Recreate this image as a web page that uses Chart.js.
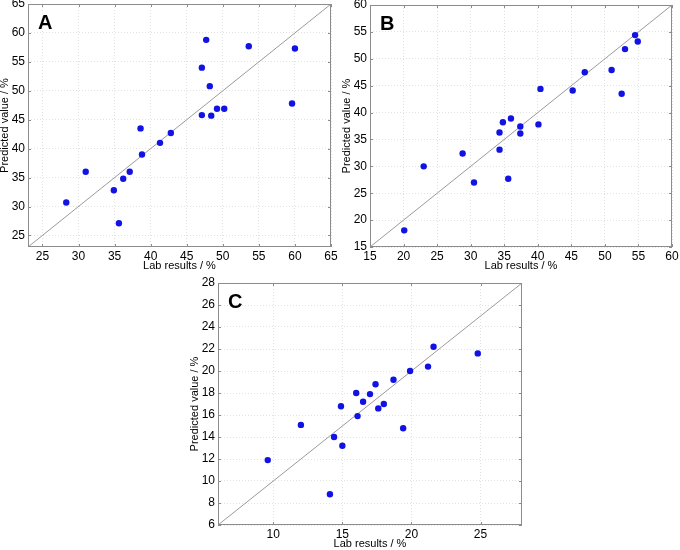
<!DOCTYPE html>
<html>
<head>
<meta charset="utf-8">
<script src="https://cdn.jsdelivr.net/npm/chart.js@4.4.1/dist/chart.umd.min.js"></script>
<style>
  html, body { margin: 0; padding: 0; background: #fff; }
  body { position: relative; width: 680px; height: 550px; overflow: hidden; }
  canvas { position: absolute; }
</style>
</head>
<body>
<canvas id="chartA"></canvas>
<canvas id="chartB"></canvas>
<canvas id="chartC"></canvas>
<script>
// Panel A
const aLab  = [28.3, 31.0, 34.9, 35.6, 36.2, 37.1, 38.6, 38.8, 41.3, 42.8, 47.1, 47.1, 47.7, 48.2, 48.4, 49.2, 50.2, 53.6, 59.6, 60.0];
const aPred = [30.7, 36.0, 32.8, 27.1, 34.8, 36.0, 43.5, 39.0, 41.0, 42.7, 45.8, 54.0, 58.8, 50.8, 45.7, 46.9, 46.9, 57.7, 47.8, 57.3];
const aRange = [23, 65];
const aTicks = [25, 30, 35, 40, 45, 50, 55, 60, 65];

// Panel B
const bLab  = [20.1, 23.0, 28.8, 30.5, 34.3, 34.3, 34.8, 35.6, 36.0, 37.4, 37.4, 40.1, 40.4, 45.2, 47.0, 51.0, 52.5, 53.0, 54.5, 54.9];
const bPred = [18.1, 30.0, 32.4, 27.0, 33.1, 36.3, 38.2, 27.7, 38.9, 37.4, 36.1, 37.8, 44.4, 44.1, 47.5, 47.9, 43.5, 51.8, 54.4, 53.2];
const bRange = [15, 60];
const bTicks = [15, 20, 25, 30, 35, 40, 45, 50, 55, 60];

// Panel C
const cLab  = [9.6, 12.0, 14.1, 14.4, 14.9, 15.0, 16.0, 16.1, 16.5, 17.0, 17.4, 17.6, 18.0, 18.7, 19.4, 19.9, 21.2, 21.6, 24.8];
const cPred = [11.9, 15.1, 8.8, 14.0, 16.8, 13.2, 18.0, 15.9, 17.2, 17.9, 18.8, 16.6, 17.0, 19.2, 14.8, 20.0, 20.4, 22.2, 21.6];
const cRange = [6, 28];
const cXTicks = [10, 15, 20, 25];
const cYTicks = [6, 8, 10, 12, 14, 16, 18, 20, 22, 24, 26, 28];

const xTitle = "Lab results / %";
const yTitle = "Predicted value / %";

const AXIS_W = 30, AXIS_H = 28, PAD = 20;
const DOT = "rgb(18, 18, 228)";

// box, inward tick marks and panel letter, MATLAB style
const framePlugin = {
  id: "frame",
  afterDraw(chart, args, opts) {
    const { ctx, chartArea: a, scales: { x, y } } = chart;
    ctx.save();
    ctx.strokeStyle = "#8c8c8c";
    ctx.lineWidth = 1;
    ctx.strokeRect(a.left + 0.5, a.top + 0.5, a.right - a.left - 1, a.bottom - a.top - 1);
    ctx.beginPath();
    x.ticks.forEach(t => {
      const px = Math.round(x.getPixelForValue(t.value)) + 0.5;
      ctx.moveTo(px, a.bottom); ctx.lineTo(px, a.bottom - 3);
      ctx.moveTo(px, a.top); ctx.lineTo(px, a.top + 3);
    });
    y.ticks.forEach(t => {
      const py = Math.round(y.getPixelForValue(t.value)) + 0.5;
      ctx.moveTo(a.left, py); ctx.lineTo(a.left + 3, py);
      ctx.moveTo(a.right, py); ctx.lineTo(a.right - 3, py);
    });
    ctx.stroke();
    ctx.fillStyle = "#000";
    ctx.font = "bold 20px Arial, 'Liberation Sans', sans-serif";
    ctx.textBaseline = "alphabetic";
    ctx.fillText(opts.letter, a.left + 10, a.top + 25);
    ctx.restore();
  }
};

function axis(range, ticks, isX) {
  return {
    type: "linear",
    min: range[0],
    max: range[1],
    afterBuildTicks: s => { s.ticks = ticks.map(v => ({ value: v })); },
    afterFit: s => { if (isX) s.height = AXIS_H; else s.width = AXIS_W; },
    grid: { color: "#e2e2e2", lineWidth: 1, drawTicks: false },
    border: { display: false, dash: [1, 2] },
    ticks: {
      color: "#000",
      padding: isX ? 2 : 3,
      font: { family: "Arial, 'Liberation Sans', sans-serif", size: 12 }
    },
    title: {
      display: true,
      text: isX ? xTitle : yTitle,
      color: "#000",
      padding: isX ? { top: 0, bottom: 2 } : { top: 0, bottom: 0 },
      font: { family: "Arial, 'Liberation Sans', sans-serif", size: 11 }
    }
  };
}

function panel(id, plot, lab, pred, range, xTicks, yTicks, letter) {
  const cv = document.getElementById(id);
  const w = plot.r - plot.l + AXIS_W + PAD;
  const h = plot.b - plot.t + PAD + AXIS_H;
  cv.width = w; cv.height = h;
  cv.style.left = (plot.l - AXIS_W) + "px";
  cv.style.top = (plot.t - PAD) + "px";
  cv.style.width = w + "px"; cv.style.height = h + "px";
  return new Chart(cv.getContext("2d"), {
    type: "scatter",
    data: {
      datasets: [
        {
          label: "points",
          data: lab.map((v, i) => ({ x: v, y: pred[i] })),
          backgroundColor: DOT,
          borderColor: DOT,
          pointRadius: 3.2,
          pointBorderWidth: 0
        },
        {
          type: "line",
          label: "y = x",
          data: [{ x: range[0], y: range[0] }, { x: range[1], y: range[1] }],
          borderColor: "#9a9a9a",
          borderWidth: 1,
          pointRadius: 0
        }
      ]
    },
    options: {
      responsive: false,
      animation: false,
      layout: { padding: { left: 0, top: PAD, right: PAD, bottom: 0 } },
      scales: { x: axis(range, xTicks, true), y: axis(range, yTicks, false) },
      plugins: {
        legend: { display: false },
        tooltip: { enabled: false },
        frame: { letter: letter }
      }
    },
    plugins: [framePlugin]
  });
}

panel("chartA", { l: 28, t: 4, r: 331, b: 247 }, aLab, aPred, aRange, aTicks, aTicks, "A");
panel("chartB", { l: 370, t: 5, r: 672, b: 247 }, bLab, bPred, bRange, bTicks, bTicks, "B");
panel("chartC", { l: 218, t: 283, r: 522, b: 525 }, cLab, cPred, cRange, cXTicks, cYTicks, "C");
</script>
</body>
</html>
